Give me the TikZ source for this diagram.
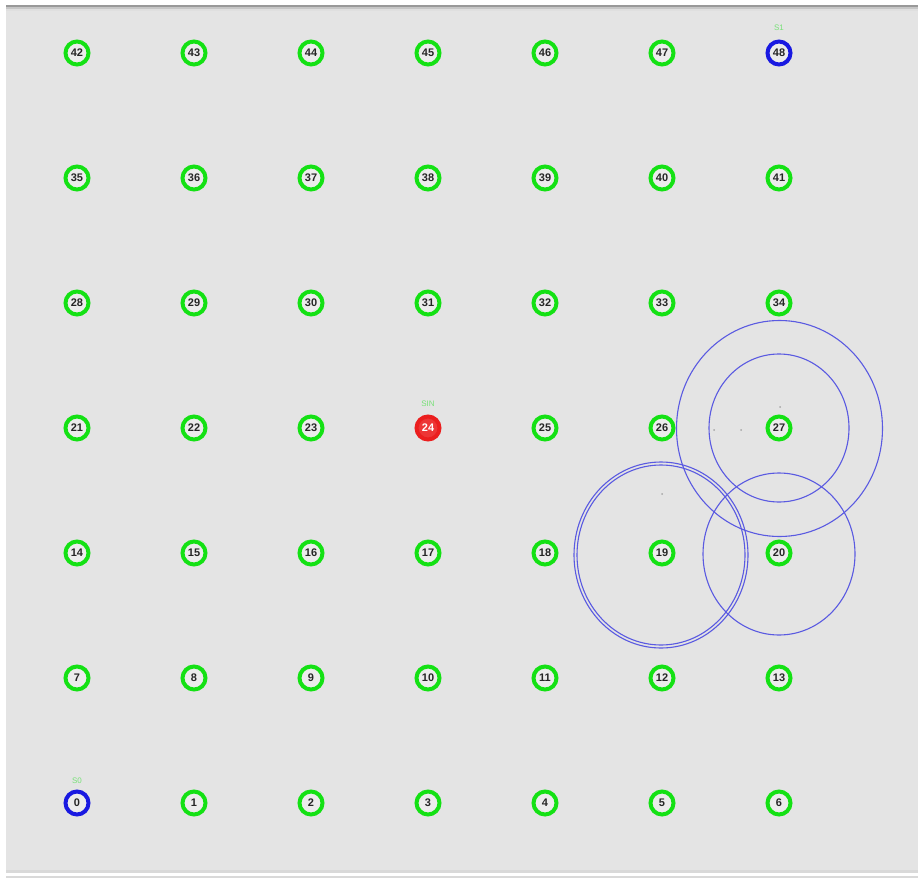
\documentclass[tikz,border=0pt]{standalone}
\usepackage{fontspec}
\setmainfont{Liberation Sans}
\definecolor{bgray}{RGB}{228,228,228}
\definecolor{ngreen}{RGB}{20,225,20}
\definecolor{nblue}{RGB}{25,25,225}
\definecolor{nred}{RGB}{235,30,30}
\definecolor{rblue}{RGB}{90,90,225}
\definecolor{lgreen}{RGB}{120,225,120}
\tikzset{
  sensornode/.style={circle, minimum size=23pt, inner sep=0pt, draw=ngreen, line width=4pt, fill=gray!15, text=black!85, font=\fontsize{11}{11}\selectfont\bfseries},
  sinknode/.style={sensornode, draw=nblue},
  srcnode/.style={sensornode, draw=nred, fill=nred!90, text=white},
  stag/.style={font=\fontsize{8}{8}\selectfont, text=lgreen, inner sep=0pt},
  rangering/.style={draw=rblue, line width=1.1pt},
  tracedot/.style={fill=gray!70}
}
\begin{document}
\begin{tikzpicture}[x=1pt,y=-1pt]
\useasboundingbox (0,0) rectangle (918,880);
\fill[white] (0,0) rectangle (918,880);
\fill[bgray] (6,5) rectangle (918,873);
\fill[gray!80] (6,5) rectangle (918,7);
\fill[gray!45] (6,7) rectangle (918,9);
\fill[gray!25] (6,9) rectangle (918,11);
\fill[gray!30] (6,870) rectangle (918,873);
\fill[gray!30] (6,876) rectangle (918,878);
% range circles
\draw[rangering] (779.5,428.5) ellipse [x radius=103, y radius=108];
\draw[rangering] (779,428) ellipse [x radius=70, y radius=74];
\draw[rangering] (661,555) ellipse [x radius=87, y radius=93];
\draw[rangering] (661,555) ellipse [x radius=84, y radius=90];
\draw[rangering] (779,554) ellipse [x radius=76, y radius=81];
\fill[tracedot] (714,430) circle (1);
\fill[tracedot] (741,430) circle (1);
\fill[tracedot] (780,407) circle (1);
\fill[tracedot] (662,494) circle (1);
% sensor grid
\foreach \r in {0,...,6}{
  \foreach \c in {0,...,6}{
    \pgfmathtruncatemacro{\id}{7*\r+\c}
    \pgfmathsetmacro{\xx}{77+117*\c}
    \pgfmathsetmacro{\yy}{803-125*\r}
    \ifnum\id=0
      \node[sinknode] (n\id) at (\xx,\yy) {\id};
    \else\ifnum\id=48
      \node[sinknode] (n\id) at (\xx,\yy) {\id};
    \else\ifnum\id=24
      \node[srcnode] (n\id) at (\xx,\yy) {\id};
    \else
      \node[sensornode] (n\id) at (\xx,\yy) {\id};
    \fi\fi\fi
  }
}
\node[stag] (t0) at ([yshift=22]n0.center) {S0};
\node[stag] (t48) at ([yshift=25]n48.center) {S1};
\node[stag] (t24) at ([yshift=24]n24.center) {SIN};
\end{tikzpicture}
\end{document}
